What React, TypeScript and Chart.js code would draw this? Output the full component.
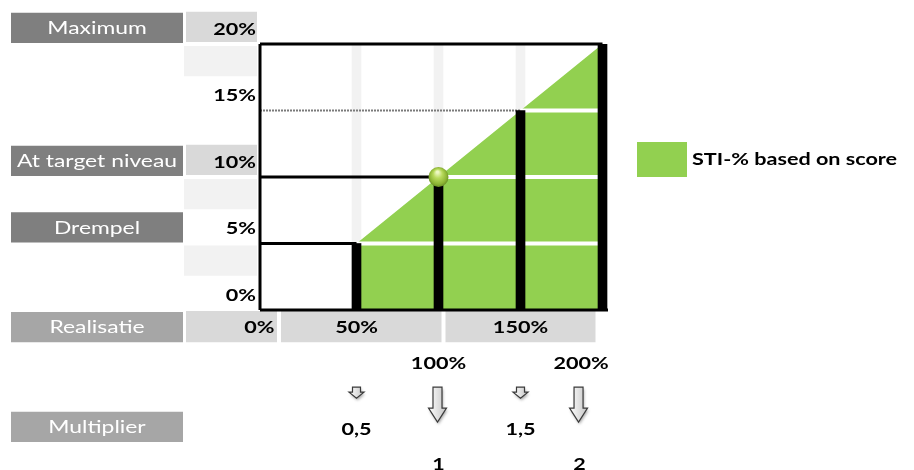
import React, { useEffect, useRef } from 'react';
import { Chart, registerables } from 'chart.js';

Chart.register(...registerables);

// ---------- data ----------
const realisatie = [50, 100, 150, 200]; // realisation (%) at each step
const stiPercent = [5, 10, 15, 20]; // STI-% reached at each step
const bandRealisatie = [50, 100, 150]; // light vertical grid bands
const bandTop = [20, 20, 20];
const targetRealisatie = 100;
const targetSti = 10;

const yMin = 0;
const yMax = 20;
const xMin = -8.84;
const xMax = 203.35;
const rowStep = 2.5; // one table row in STI-% units

const yLabelValues = [0, 5, 10, 15, 20];
const yLabelTexts = ['0%', '5%', '10%', '15%', '20%'];
const yDarkBoxValues = [20, 10];
const yLightBoxValues = [17.5, 7.5, 2.5];

const sideLabels = ['Maximum', 'At target niveau', 'Drempel'];
const sideLabelValues = [20, 10, 5];
const bottomSideLabels = ['Realisatie', 'Multiplier'];
const bottomSideRows = [-2.5, -10];

const realisatieLabels = ['0%', '50%', '150%'];
const realisatieLabelValues = [0, 50, 150];
const realisatieUpperLabels = ['100%', '200%'];
const realisatieUpperValues = [100, 187];
const multiplierLabels = ['0,5', '1', '1,5', '2'];
const multiplierValues = [50, 100, 150, 186];
const multiplierRows = [-9, -11.6, -9, -11.6];
const arrowSmall = [true, false, true, false];

const legendLabel = 'STI-% based on score';

const GREEN = '#92D050';
const DARK_BOX = '#7f7f7f';
const SOFT_BOX = '#a6a6a6';
const MID_BOX = '#d9d9d9';
const LIGHT_BOX = '#f2f2f2';
const FONT = 'Lato, "Open Sans", sans-serif';
const SX = 1.27; // horizontal stretch of the lettering

function text(ctx: CanvasRenderingContext2D, s: string, x: number, y: number, align: 'left' | 'center' | 'right') {
  const w = ctx.measureText(s).width * SX;
  const x0 = align === 'center' ? x - w / 2 : align === 'right' ? x - w : x;
  ctx.save();
  ctx.translate(x0, y);
  ctx.scale(SX, 1);
  ctx.textAlign = 'left';
  ctx.textBaseline = 'middle';
  ctx.fillText(s, 0, 0);
  ctx.restore();
}

function drawArrow(ctx: CanvasRenderingContext2D, cx: number, top: number, shaftH: number, headH: number, shaftW: number, headW: number) {
  ctx.save();
  ctx.beginPath();
  ctx.moveTo(cx - shaftW / 2, top);
  ctx.lineTo(cx + shaftW / 2, top);
  ctx.lineTo(cx + shaftW / 2, top + shaftH);
  ctx.lineTo(cx + headW / 2, top + shaftH);
  ctx.lineTo(cx, top + shaftH + headH);
  ctx.lineTo(cx - headW / 2, top + shaftH);
  ctx.lineTo(cx - shaftW / 2, top + shaftH);
  ctx.closePath();
  const g = ctx.createLinearGradient(cx - headW / 2, 0, cx + headW / 2, 0);
  g.addColorStop(0, '#ffffff');
  g.addColorStop(1, '#c4c4c4');
  ctx.shadowColor = 'rgba(0,0,0,0.35)';
  ctx.shadowBlur = 3;
  ctx.shadowOffsetX = 1;
  ctx.shadowOffsetY = 2;
  ctx.fillStyle = g;
  ctx.fill();
  ctx.shadowColor = 'transparent';
  ctx.strokeStyle = '#3a3a3a';
  ctx.lineWidth = 1.2;
  ctx.stroke();
  ctx.restore();
}

const decorPlugin = {
  id: 'decor',
  beforeDraw(chart: any) {
    const { ctx, chartArea } = chart;
    const xs = chart.scales.x;
    const ys = chart.scales.y;
    const px = (v: number) => xs.getPixelForValue(v);
    const py = (v: number) => ys.getPixelForValue(v);
    const left = chartArea.left;
    const colL = left - 74;
    const colR = left - 3;
    const sideL = left - 249;
    const sideR = left - 77;

    ctx.save();
    ctx.fillStyle = '#ffffff';
    ctx.fillRect(0, 0, chart.width, chart.height);

    // value column boxes
    yLightBoxValues.forEach((v) => {
      ctx.fillStyle = LIGHT_BOX;
      ctx.fillRect(colL - 2, py(v + rowStep) + 2, colR - colL + 2, py(v) - py(v + rowStep) - 3);
    });
    yDarkBoxValues.forEach((v) => {
      ctx.fillStyle = MID_BOX;
      ctx.fillRect(colL, py(v + rowStep) + 1, colR - colL, py(v) - py(v + rowStep) - 3);
    });

    // value labels
    ctx.fillStyle = '#000';
    ctx.font = `bold 17px ${FONT}`;
    yLabelValues.forEach((v, i) => {
      text(ctx, yLabelTexts[i], colR - 1, (py(v + rowStep) + py(v)) / 2 + 2, 'right');
    });

    // side labels (grey boxes)
    const sideBox = (s: string, v: number, color: string) => {
      const t = py(v + rowStep);
      const b = py(v);
      ctx.fillStyle = color;
      ctx.fillRect(sideL, t + 2, sideR - sideL, b - t - 3);
      ctx.fillStyle = '#fff';
      ctx.font = `18px ${FONT}`;
      text(ctx, s, (sideL + sideR) / 2, (t + b) / 2 + 1, 'center');
    };
    sideLabels.forEach((s, i) => sideBox(s, sideLabelValues[i], DARK_BOX));
    bottomSideLabels.forEach((s, i) => sideBox(s, bottomSideRows[i], SOFT_BOX));

    // realisatie row boxes
    const rt = py(0) + 1;
    const rb = py(-rowStep) - 1;
    ctx.fillStyle = MID_BOX;
    ctx.fillRect(colL, rt, px(0) + 2.5 - colL, rb - rt);
    ctx.fillRect(px(0) + 6.5, rt, px(100) + 3 - (px(0) + 6.5), rb - rt);
    ctx.fillRect(px(100) + 7, rt, px(200) - 7 - (px(100) + 7), rb - rt);

    ctx.fillStyle = '#000';
    ctx.font = `bold 17px ${FONT}`;
    realisatieLabels.forEach((s, i) => {
      const v = realisatieLabelValues[i];
      text(ctx, s, px(v), py(-1.35), v === 0 ? 'right' : 'center');
    });
    realisatieUpperLabels.forEach((s, i) => {
      text(ctx, s, px(realisatieUpperValues[i]), py(-4), 'center');
    });
    multiplierLabels.forEach((s, i) => {
      text(ctx, s, px(multiplierValues[i]), py(multiplierRows[i]), 'center');
    });
    ctx.restore();
  },
  afterDraw(chart: any) {
    const { ctx, chartArea } = chart;
    const xs = chart.scales.x;
    const ys = chart.scales.y;
    const px = (v: number) => xs.getPixelForValue(v);
    const py = (v: number) => ys.getPixelForValue(v);

    multiplierValues.forEach((v, i) => {
      if (arrowSmall[i]) drawArrow(ctx, px(v), py(-5.8), 5, 6, 8, 15);
      else drawArrow(ctx, px(v) - 1, py(-5.8), 21, 14, 9, 18);
    });

    // legend
    const lx = chartArea.right + 29;
    const ly = (chartArea.top + chartArea.bottom) / 2 - 35;
    ctx.save();
    ctx.fillStyle = GREEN;
    ctx.fillRect(lx, ly, 50, 35);
    ctx.fillStyle = '#000';
    ctx.font = `bold 17px ${FONT}`;
    text(ctx, legendLabel, lx + 55, ly + 18, 'left');
    ctx.restore();
  },
};

export default function App() {
  const ref = useRef<HTMLCanvasElement>(null);

  useEffect(() => {
    const canvas = ref.current;
    if (!canvas) return;

    const stepPoints = realisatie.map((x, i) => ({ x, y: stiPercent[i] }));
    const line = (data: { x: number; y: number }[], color: string, width: number, order: number, extra: any = {}) => ({
      type: 'line' as const,
      data,
      borderColor: color,
      borderWidth: width,
      pointRadius: 0,
      fill: false,
      clip: false,
      order,
      ...extra,
    });

    const whiteSteps = realisatie.slice(0, 3).map((x, i) =>
      line(
        [
          { x, y: stiPercent[i] },
          { x: realisatie[realisatie.length - 1], y: stiPercent[i] },
        ],
        '#ffffff',
        4,
        7,
        { clip: true }
      )
    );

    const chart = new Chart(canvas, {
      type: 'bar',
      data: {
        datasets: [
          {
            type: 'bar',
            data: bandRealisatie.map((x, i) => ({ x, y: bandTop[i] })),
            backgroundColor: LIGHT_BOX,
            barThickness: 9,
            grouped: false,
            order: 10,
          } as any,
          line(
            [
              { x: xMin, y: stiPercent[2] },
              { x: realisatie[2], y: stiPercent[2] },
            ],
            '#7a7a7a',
            2,
            9,
            { borderDash: [2, 1] }
          ),
          {
            type: 'line',
            data: stepPoints,
            borderWidth: 0,
            borderColor: 'rgba(0,0,0,0)',
            backgroundColor: GREEN,
            pointRadius: 0,
            fill: 'origin',
            order: 8,
          } as any,
          ...whiteSteps,
          {
            type: 'bar',
            data: stepPoints,
            backgroundColor: '#000000',
            barThickness: 9,
            grouped: false,
            order: 6,
          } as any,
          line([{ x: xMin, y: yMax }, { x: realisatie[3], y: yMax }], '#000', 3, 5),
          line([{ x: xMin, y: targetSti }, { x: targetRealisatie, y: targetSti }], '#000', 3, 5),
          line([{ x: xMin, y: stiPercent[0] }, { x: realisatie[0], y: stiPercent[0] }], '#000', 3, 5),
          line([{ x: xMin, y: yMin }, { x: xMax, y: yMin }], '#000', 3, 5),
          line([{ x: xMin, y: yMin }, { x: xMin, y: yMax }], '#000', 3, 5),
          {
            type: 'line',
            data: [{ x: targetRealisatie, y: targetSti }],
            showLine: false,
            pointRadius: 10,
            pointBorderWidth: 0,
            pointBackgroundColor: (c: any) => {
              const ch = c.chart;
              const sx = ch.scales?.x;
              const sy = ch.scales?.y;
              if (!sx || !sy || !ch.chartArea) return '#9bc43c';
              const x = sx.getPixelForValue(targetRealisatie);
              const y = sy.getPixelForValue(targetSti);
              const g = ch.ctx.createRadialGradient(x - 1, y - 5, 1, x, y, 11);
              g.addColorStop(0, '#eef8c4');
              g.addColorStop(0.35, '#b8da5c');
              g.addColorStop(0.75, '#8cb434');
              g.addColorStop(1, '#5e8020');
              return g;
            },
            clip: false,
            order: 0,
          } as any,
        ],
      },
      options: {
        responsive: false,
        animation: false,
        events: [],
        layout: { padding: { left: 260, top: 44, right: 306, bottom: 160 } },
        scales: {
          x: { type: 'linear', min: xMin, max: xMax, display: false, offset: false },
          y: { type: 'linear', min: yMin, max: yMax, display: false },
        },
        plugins: {
          legend: { display: false },
          tooltip: { enabled: false },
        },
      } as any,
      plugins: [decorPlugin],
    });

    return () => chart.destroy();
  }, []);

  return (
    <div style={{ position: 'absolute', left: 0, top: 0, width: 914, height: 470, background: '#fff' }}>
      <canvas ref={ref} width={914} height={470} style={{ display: 'block', width: 914, height: 470 }} />
    </div>
  );
}
